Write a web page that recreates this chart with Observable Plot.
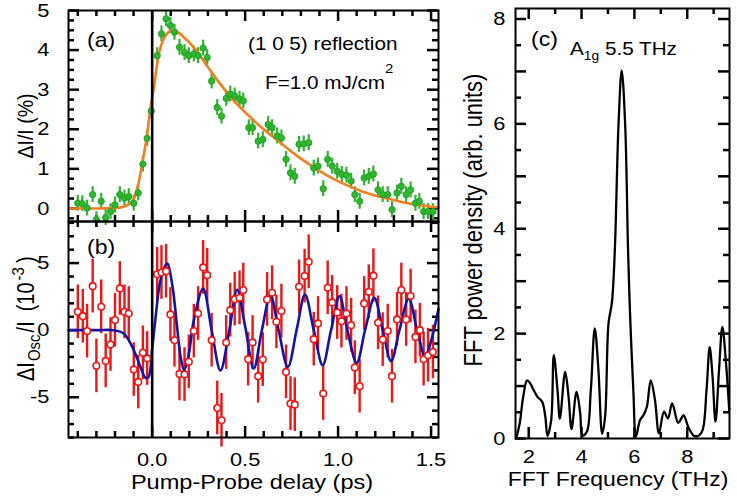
<!DOCTYPE html>
<html>
<head>
<meta charset="utf-8">
<script src="https://cdn.jsdelivr.net/npm/d3@7"></script>
<script src="https://cdn.jsdelivr.net/npm/@observablehq/plot@0.6"></script>
<style>
html, body { margin: 0; padding: 0; background: #fff; }
#chart { position: relative; width: 737px; height: 498px; overflow: hidden; background: #fff; }
#chart svg { position: absolute; left: 0; top: 0; }
</style>
</head>
<body>
<div id="chart"></div>
<script>
// ---------------- data ----------------
// panel (a): transient reflectivity dI/I (%)
const delayA = [-0.40,-0.376,-0.35,-0.32,-0.30,-0.274,-0.25,-0.224,-0.20,-0.174,-0.149,-0.126,-0.099,-0.075,-0.05,-0.027,-0.005,
  0.027,0.05,0.075,0.098,0.12,0.147,0.174,0.197,0.224,0.247,0.274,0.296,0.32,0.35,0.373,0.398,0.42,0.444,0.47,0.49,
  0.52,0.54,0.57,0.595,0.624,0.645,0.672,0.695,0.72,0.744,0.767,0.79,0.815,0.842,0.869,0.892,0.92,0.944,0.968,0.995,
  1.02,1.045,1.07,1.09,1.116,1.14,1.165,1.19,1.215,1.24,1.267,1.29,1.317,1.34,1.366,1.39,1.416,1.437,1.46,1.484,1.51];
const signalA = [0.13,0.12,0.01,0.35,-0.28,0.18,-0.23,-0.08,0.09,0.35,0.26,0.30,0.13,0.39,1.12,1.77,2.46,
  3.86,4.41,4.79,4.62,4.45,4.07,3.94,3.86,3.90,3.86,4.05,3.81,3.22,2.55,2.33,2.78,2.89,2.84,2.76,2.72,
  2.04,2.04,1.70,1.74,2.12,2.04,1.83,1.78,1.24,0.90,0.81,1.62,1.63,1.66,1.02,1.07,0.50,1.24,1.07,0.94,
  0.86,0.84,0.69,0.35,0.18,0.77,0.81,0.87,0.47,0.35,0.35,-0.03,0.39,0.56,0.35,0.47,0.13,0.18,-0.08,-0.08,-0.08];
const errA = 0.2;
const fitDelayA = [-0.45,-0.30,-0.20,-0.15,-0.107,-0.08,-0.054,-0.03,-0.009,0.009,0.027,0.045,0.072,0.098,0.125,0.16,
  0.224,0.296,0.367,0.44,0.52,0.59,0.68,0.77,0.86,0.95,1.04,1.13,1.22,1.31,1.40,1.49,1.54];
const fitValueA = [0.0,0.0,0.01,0.05,0.18,0.52,1.11,1.78,2.55,3.05,3.65,4.07,4.37,4.49,4.48,4.37,
  4.07,3.60,3.14,2.72,2.34,2.04,1.70,1.36,1.07,0.81,0.60,0.43,0.30,0.20,0.11,0.05,0.03];

// panel (b): oscillatory part dI_osc/I (1e-3)
const delayB = [-0.40,-0.373,-0.35,-0.32,-0.30,-0.274,-0.25,-0.224,-0.20,-0.174,-0.149,-0.126,-0.099,-0.075,-0.05,-0.027,
  0.027,0.05,0.075,0.098,0.12,0.147,0.174,0.197,0.224,0.247,0.274,0.296,0.32,0.35,0.373,0.398,0.42,0.444,0.47,0.49,
  0.516,0.54,0.57,0.595,0.618,0.645,0.668,0.695,0.72,0.744,0.767,0.79,0.82,0.842,0.869,0.892,0.92,0.944,0.968,0.995,
  1.018,1.045,1.07,1.09,1.116,1.14,1.165,1.19,1.215,1.24,1.267,1.29,1.317,1.34,1.366,1.39,1.416,1.44,1.46,1.484,1.51];
const oscB = [1.37,1.04,-0.07,3.28,-2.66,1.74,-2.29,-1.07,0.75,3.11,1.37,1.24,-2.93,-3.86,-1.69,-2.11,
  4.16,4.30,4.40,1.17,-0.75,-3.26,-3.31,-2.36,-0.07,1.24,4.68,4.10,-0.75,-5.80,-6.72,-0.92,1.49,2.31,2.41,2.99,
  -2.16,-0.92,-3.43,-2.19,2.29,2.79,0.62,1.42,-3.11,-5.47,-5.55,3.23,4.03,5.10,-0.67,0.50,-4.72,3.16,2.07,1.32,
  0.67,1.24,0.37,-2.79,-4.18,1.99,2.86,4.06,0.55,-0.70,-0.07,-3.43,0.80,2.99,0.80,2.54,-0.50,0.0,-2.16,-1.87,-1.62];
const errB = 2.0;
const fitDelayB = [-0.45,-0.30,-0.21,-0.153,-0.107,-0.063,-0.036,-0.02,0.0,0.018,0.045,0.08,0.107,0.134,0.152,0.172,0.197,
  0.222,0.274,0.32,0.367,0.415,0.457,0.50,0.546,0.59,0.636,0.68,0.73,0.778,0.822,0.869,0.917,0.962,1.008,1.05,1.10,
  1.145,1.195,1.24,1.285,1.33,1.38,1.425,1.468,1.492,1.515,1.54];
const fitValueB = [0,0,0,-0.25,-1.24,-2.74,-3.55,-3.5,-1.4,0.9,3.73,4.98,3.48,0.25,-1.9,-3.0,-1.8,
  0.6,3.1,0,-3.0,0,3.0,0.3,-2.86,0,2.6,0,-2.74,0.1,2.66,0,-2.61,0,2.54,0,-2.44,
  0,2.41,0,-2.31,0,2.35,0,-2.0,-1.2,0.0,1.6];

// panel (c): FFT power density
const fftFreq = [1.54,1.66,1.79,1.94,2.06,2.19,2.34,2.51,2.63,2.71,2.85,2.95,3.09,3.18,3.38,3.51,3.62,3.81,3.95,4.03,
  4.20,4.35,4.50,4.64,4.78,4.89,5.02,5.15,5.26,5.40,5.52,5.65,5.76,5.84,5.96,6.06,6.21,6.34,6.47,6.62,6.78,6.93,
  7.12,7.27,7.43,7.66,7.86,8.04,8.26,8.42,8.58,8.73,8.85,8.96,9.07,9.21,9.33,9.46,9.59];
const fftPower = [0.03,0.29,0.79,1.11,1.05,0.92,0.79,0.70,0.41,0.05,0.35,1.59,0.92,0.38,1.27,0.79,0.18,0.89,0.48,0.06,
  0.13,0.92,2.10,1.30,0.09,0.41,2.19,2.60,3.6,6.0,7.02,6.0,3.6,2.32,0.92,0.04,0.35,0.44,0.60,1.11,0.73,0.10,
  0.51,0.38,0.67,0.30,0.44,0.22,0.05,0.05,0.16,0.92,1.74,1.17,0.32,1.36,2.13,1.49,0.54];

// tick labels
const xLabelsAB = [0.0, 0.5, 1.0, 1.5];
const yLabelsA = [0, 1, 2, 3, 4, 5];
const yLabelsB = [-5, 0, 5];
const xLabelsC = [2, 4, 6, 8];
const yLabelsC = [0, 2, 4, 6, 8];

// ---------------- layout ----------------
const W = 737, H = 498;
const FONT = "'Liberation Sans', Arial, Helvetica, sans-serif";
const STRETCH = 1.15;
const GREEN = "#2fb52f", ORANGE = "#f07f22", RED = "#ee1515", BLUE = "#1515a5";

const rowsA = delayA.map((t, i) => ({t, v: signalA[i]}));
const fitA = fitDelayA.map((t, i) => ({t, v: fitValueA[i]}));
const rowsB = delayB.map((t, i) => ({t, v: oscB[i]}));
const fitB = fitDelayB.map((t, i) => ({t, v: fitValueB[i]}));
const fft = fftFreq.map((f, i) => ({f, p: fftPower[i]}));

function base(m) {
  return {
    width: W, height: H,
    marginLeft: m.l, marginRight: W - m.r, marginTop: m.t, marginBottom: H - m.b,
    style: `background:transparent;overflow:visible;position:absolute;left:0;top:0;font-family:${FONT};font-size:19px;color:black;`
  };
}

function frameTicks(m, xMinor, xMajor, yMinor, yMajor) {
  const fw = m.r - m.l, fh = m.b - m.t;
  const mn = 6, mj = 11, sw = 2.5;
  const out = [];
  for (const [arr, len] of [[xMinor, mn], [xMajor, mj]]) {
    out.push(Plot.tickX(arr, {x: d => d, insetTop: fh - len, stroke: "black", strokeWidth: sw}));
    out.push(Plot.tickX(arr, {x: d => d, insetBottom: fh - len, stroke: "black", strokeWidth: sw}));
  }
  for (const [arr, len] of [[yMinor, mn], [yMajor, mj]]) {
    out.push(Plot.tickY(arr, {y: d => d, insetRight: fw - len, stroke: "black", strokeWidth: sw}));
    out.push(Plot.tickY(arr, {y: d => d, insetLeft: fw - len, stroke: "black", strokeWidth: sw}));
  }
  return out;
}

function stretchText(svg) {
  svg.querySelectorAll("text").forEach(t => {
    const tr = t.getAttribute("transform");
    if (tr) t.setAttribute("transform", tr + ` scale(${STRETCH},1)`);
  });
}

const chart = document.getElementById("chart");

// ---- panel (a)
const mA = {l: 68, r: 438, t: 10, b: 221};
const xMinorAB = d3.range(-0.4, 1.55, 0.1).map(d => +d.toFixed(2)).filter(d => Math.abs(d * 2 - Math.round(d * 2)) > 1e-6);
const plotA = Plot.plot({
  ...base(mA),
  x: {domain: [-0.45, 1.54], axis: null},
  y: {domain: [-0.33, 5.0], axis: null},
  marks: [
    ...frameTicks(mA, xMinorAB, xLabelsAB, d3.range(-0.25, 5, 0.25).filter(d => d % 1 !== 0), yLabelsA),
    Plot.ruleX(rowsA, {x: "t", y1: d => d.v - errA, y2: d => d.v + errA, stroke: GREEN, strokeWidth: 2.2}),
    Plot.line(fitA, {x: "t", y: "v", stroke: ORANGE, strokeWidth: 2.6, curve: "catmull-rom"}),
    Plot.dot(rowsA, {x: "t", y: "v", r: 3.2, fill: GREEN, stroke: "#1f9a1f", strokeWidth: 0.8}),
    Plot.ruleX([0], {stroke: "black", strokeWidth: 2.6}),
    Plot.frame({stroke: "black", strokeWidth: 2}),
    Plot.text(yLabelsA, {y: d => d, text: d => String(d), frameAnchor: "left", textAnchor: "end", dx: -19, fill: "black"})
  ]
});
stretchText(plotA);
chart.appendChild(plotA);

// ---- panel (b)
const mB = {l: 68, r: 438, t: 221, b: 437};
const plotB = Plot.plot({
  ...base(mB),
  x: {domain: [-0.45, 1.54], axis: null},
  y: {domain: [-8, 8.1], axis: null},
  marks: [
    ...frameTicks(mB, xMinorAB, xLabelsAB, d3.range(-8, 8.5, 1).filter(d => d % 5 !== 0), yLabelsB),
    Plot.ruleX(rowsB, {x: "t", y1: d => d.v - errB, y2: d => d.v + errB, stroke: RED, strokeWidth: 2.4}),
    Plot.line(fitB, {x: "t", y: "v", stroke: BLUE, strokeWidth: 2.6, curve: "catmull-rom"}),
    Plot.dot(rowsB, {x: "t", y: "v", r: 3.3, fill: "white", stroke: RED, strokeWidth: 1.6}),
    Plot.ruleX([0], {stroke: "black", strokeWidth: 2.6}),
    Plot.frame({stroke: "black", strokeWidth: 2}),
    Plot.text(yLabelsB, {y: d => d, text: d => String(d), frameAnchor: "left", textAnchor: "end", dx: -19, fill: "black"}),
    Plot.text(xLabelsAB, {x: d => d, text: d => d.toFixed(1), frameAnchor: "bottom", lineAnchor: "top", dy: 15, fill: "black"})
  ]
});
stretchText(plotB);
chart.appendChild(plotB);

// ---- panel (c)
const mC = {l: 515, r: 729, t: 8, b: 438};
const plotC = Plot.plot({
  ...base(mC),
  x: {domain: [1.5, 9.6], axis: null},
  y: {domain: [0, 8.2], axis: null},
  marks: [
    ...frameTicks(mC, [3, 5, 7, 9], xLabelsC, d3.range(0.5, 8.1, 1), d3.range(0, 8.1, 1)),
    Plot.line(fft, {x: "f", y: "p", stroke: "black", strokeWidth: 2.3, curve: "catmull-rom"}),
    Plot.frame({stroke: "black", strokeWidth: 2}),
    Plot.text(yLabelsC, {y: d => d, text: d => String(d), frameAnchor: "left", textAnchor: "end", dx: -10, fill: "black"}),
    Plot.text(xLabelsC, {x: d => d, text: d => String(d), frameAnchor: "bottom", lineAnchor: "top", dy: 11, fill: "black"})
  ]
});
stretchText(plotC);
chart.appendChild(plotC);

// ---- overlay text (titles, panel labels, annotations)
const ov = d3.select(chart).append("svg")
  .attr("width", W).attr("height", H)
  .attr("font-family", FONT).attr("fill", "black")
  .style("overflow", "visible");

function txt(x, y, size, anchor, rotate) {
  return ov.append("text")
    .attr("transform", `translate(${x},${y}) scale(${STRETCH},1)` + (rotate ? ` rotate(${rotate})` : ""))
    .attr("font-size", size).attr("text-anchor", anchor);
}

txt(87, 47, 20, "start").text("(a)");
txt(248, 50, 18, "start").text("(1 0 5) reflection");
{
  const t = txt(265, 89, 18, "start");
  t.append("tspan").text("F=1.0 mJ/cm");
  t.append("tspan").attr("dy", -16).attr("font-size", 13).text("2");
}
txt(87, 254, 20, "start").text("(b)");
txt(531, 46, 20, "start").text("(c)");
{
  const t = txt(570, 55, 18, "start");
  t.append("tspan").text("A");
  t.append("tspan").attr("dy", 5).attr("font-size", 12).text("1g");
  t.append("tspan").attr("dy", -5).text(" 5.5 THz");
}
txt(252, 489, 20.5, "middle").text("Pump-Probe delay (ps)");
txt(618, 486, 20, "middle").text("FFT Frequency (THz)");
txt(33, 126, 19.5, "middle", -90).text("ΔI/I (%)");
{
  const t = txt(34, 381, 20, "start", -90);
  t.append("tspan").text("ΔI");
  t.append("tspan").attr("dx", 1).attr("dy", 5).attr("font-size", 15).text("Osc");
  t.append("tspan").attr("dx", 2).attr("dy", -5).text("/I");
  t.append("tspan").attr("dx", 10).text("(10");
  t.append("tspan").attr("dx", 2).attr("dy", -9).attr("font-size", 15).text("-3");
  t.append("tspan").attr("dx", 4).attr("dy", 9).text(")");
}
txt(482, 220, 22, "middle", -90).text("FFT power density (arb. units)");
</script>
</body>
</html>
